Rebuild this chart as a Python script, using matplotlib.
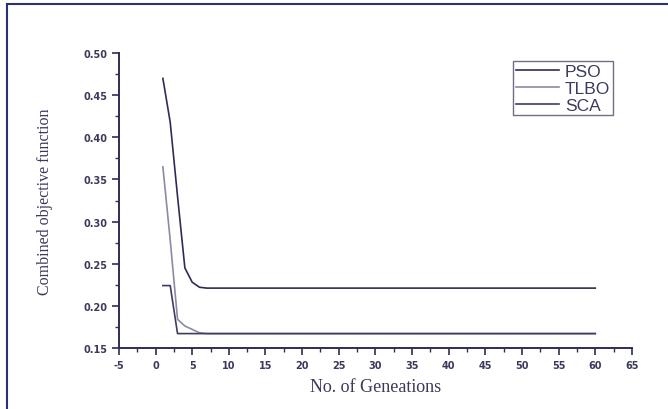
import matplotlib.pyplot as plt
from matplotlib.lines import Line2D
from matplotlib.ticker import MultipleLocator

plt.rcParams["axes.unicode_minus"] = False

# generations 1..60, values
generations = list(range(1, 61))

pso_head = [0.470, 0.418, 0.330, 0.245, 0.228, 0.222]
pso_tail = 0.221
tlbo_head = [0.365, 0.278, 0.184, 0.176, 0.172, 0.168]
tlbo_tail = 0.167
sca_head = [0.224, 0.224, 0.167]
sca_tail = 0.167

series_names = ["PSO", "TLBO", "SCA"]
series_colors = ["#2c2c58", "#8c8aa4", "#3c3c66"]

pso = pso_head + [pso_tail] * (len(generations) - len(pso_head))
tlbo = tlbo_head + [tlbo_tail] * (len(generations) - len(tlbo_head))
sca = sca_head + [sca_tail] * (len(generations) - len(sca_head))

x_ticks = list(range(-5, 70, 5))
y_ticks = [0.15, 0.20, 0.25, 0.30, 0.35, 0.40, 0.45, 0.50]

axis_color = "#2e2e55"
text_color = "#3a3a5c"

fig = plt.figure(figsize=(6.68, 4.10), dpi=100)
ax = fig.add_axes([0.178, 0.149, 0.768, 0.719])

for name, vals, col in zip(series_names, [pso, tlbo, sca], series_colors):
    ax.plot(generations, vals, color=col, linewidth=1.2, label=name)

ax.set_xlim(-5, 65)
ax.set_ylim(0.15, 0.50)
ax.set_xticks(x_ticks)
ax.set_yticks(y_ticks)
ax.set_yticklabels([f"{v:.2f}" for v in y_ticks])
ax.xaxis.set_minor_locator(MultipleLocator(2.5))
ax.yaxis.set_minor_locator(MultipleLocator(0.025))

for side in ["top", "right"]:
    ax.spines[side].set_visible(False)
for side in ["left", "bottom"]:
    ax.spines[side].set_color(axis_color)
    ax.spines[side].set_linewidth(1.4)

ax.tick_params(which="major", direction="out", length=5, width=1.2, color=axis_color,
               labelsize=7, labelcolor=text_color)
ax.tick_params(which="minor", direction="out", length=3, width=1.0, color=axis_color)
for lbl in ax.get_xticklabels() + ax.get_yticklabels():
    lbl.set_fontweight("bold")

ax.set_xlabel("No. of Geneations", family="Liberation Serif", fontsize=13,
              color=text_color, labelpad=6)
ax.set_ylabel("Combined objective function", family="Liberation Serif", fontsize=11.5,
              color=text_color, labelpad=22)

leg = ax.legend(loc="upper left", bbox_to_anchor=(0.768, 0.973), frameon=True,
                fancybox=False, handlelength=2.5, handletextpad=0.35,
                labelspacing=0.1, borderpad=0.15, borderaxespad=0,
                prop={"family": "Liberation Sans", "size": 12.5})
leg.get_frame().set_edgecolor("#4a4a66")
leg.get_frame().set_linewidth(1.0)
for t in leg.get_texts():
    t.set_color(text_color)

# outer frame (left and top edges visible)
frame_color = "#2a3272"
fig.add_artist(Line2D([7 / 668, 7 / 668], [0, 1 - 5 / 410], transform=fig.transFigure,
                      color=frame_color, linewidth=1.5))
fig.add_artist(Line2D([7 / 668, 1], [1 - 5 / 410, 1 - 5 / 410], transform=fig.transFigure,
                      color=frame_color, linewidth=1.5))

fig.savefig("out.png", dpi=100)
